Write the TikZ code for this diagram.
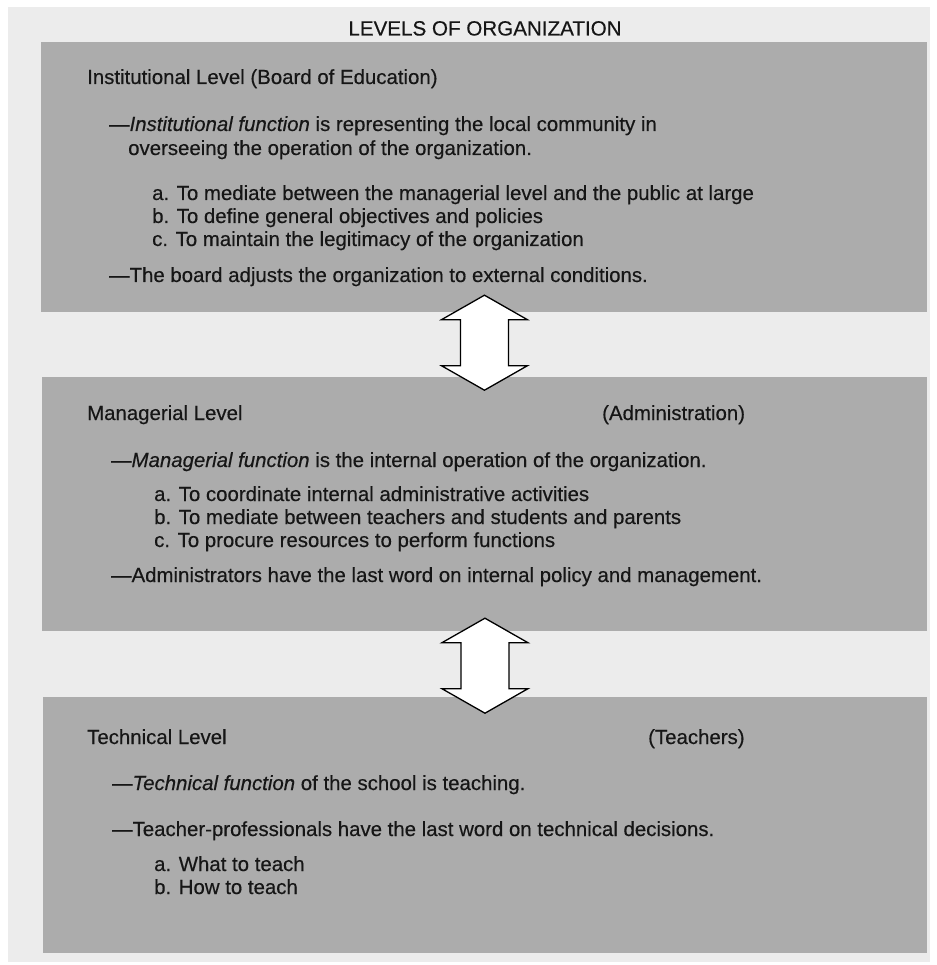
\documentclass[tikz,border=0pt]{standalone}
\usepackage{fontspec}
\setmainfont{Liberation Sans}[UprightFeatures={FakeBold=0.35},ItalicFeatures={FakeBold=0.35}]
\usetikzlibrary{calc}
\definecolor{paper}{RGB}{236,236,236}
\definecolor{panel}{RGB}{172,172,172}
\definecolor{ink}{RGB}{22,22,22}
\begin{document}
\begin{tikzpicture}[x=1pt,y=-1pt,
  panelbox/.style={rectangle, anchor=north west, inner sep=0pt, fill=panel, draw=none},
  txt/.style={anchor=base west, inner sep=0pt, text=ink, font=\fontsize{20.4}{24}\selectfont},
  heading/.style={anchor=base, inner sep=0pt, text=ink, font=\fontsize{20.6}{24}\selectfont},
  blockarrow/.style={draw=black, fill=white, line width=1.3pt, line join=miter},
  updown/.pic={
    \path[blockarrow] (0,-47.5) -- (43,-23) -- (24,-23) -- (24,23) -- (43,23)
      -- (0,47.5) -- (-43,23) -- (-24,23) -- (-24,-23) -- (-43,-23) -- cycle;
  }]
% page
\fill[white] (0,0) rectangle (936,965);
\useasboundingbox (0,0) rectangle (936,965);
\fill[paper] (8,7) rectangle (930,962);

% title
\node[heading] (title) at (485,35.5) {LEVELS OF ORGANIZATION};

% the three level panels
\node[panelbox, minimum width=886pt, minimum height=270pt] (inst) at (41,42) {};
\node[panelbox, minimum width=885pt, minimum height=254pt] (mgr) at (42,377) {};
\node[panelbox, minimum width=884pt, minimum height=256pt] (tech) at (43,697) {};

% double-headed block arrows between the panels
\coordinate (m1) at ($(inst.south)!0.5!(mgr.north)+(0,-2)$);
\coordinate (m2) at ($(mgr.south)!0.5!(tech.north)+(0,1.5)$);
\path (m1) pic {updown};
\path (m2) pic {updown};

% institutional level
\node[txt] (insthead) at (87,84) {Institutional Level (Board of Education)};
\node[txt] (instfn) at (109,131) {—\textit{Institutional function} is representing the local community in};
\node[txt] (instfnb) at (128,155) {overseeing the operation of the organization.};
\node[txt] (insta) at (152,200) {a. To mediate between the managerial level and the public at large};
\node[txt] (instb) at (152,223) {b. To define general objectives and policies};
\node[txt] (instc) at (152,246) {c. To maintain the legitimacy of the organization};
\node[txt] (instadj) at (109,282) {—The board adjusts the organization to external conditions.};

% managerial level
\node[txt] (mgrhead) at (87,420) {Managerial Level};
\node[txt] (mgrtag) at (602,420) {(Administration)};
\node[txt] (mgrfn) at (111,467) {—\textit{Managerial function} is the internal operation of the organization.};
\node[txt] (mgra) at (154,501) {a. To coordinate internal administrative activities};
\node[txt] (mgrb) at (154,524) {b. To mediate between teachers and students and parents};
\node[txt] (mgrc) at (154,547) {c. To procure resources to perform functions};
\node[txt] (mgradm) at (111,582) {—Administrators have the last word on internal policy and management.};

% technical level
\node[txt] (techhead) at (87,744) {Technical Level};
\node[txt] (techtag) at (648,744) {(Teachers)};
\node[txt] (techfn) at (112,790) {—\textit{Technical function} of the school is teaching.};
\node[txt] (techprof) at (112,836) {—Teacher-professionals have the last word on technical decisions.};
\node[txt] (techa) at (154,871) {a. What to teach};
\node[txt] (techb) at (154,894) {b. How to teach};
\end{tikzpicture}
\end{document}
